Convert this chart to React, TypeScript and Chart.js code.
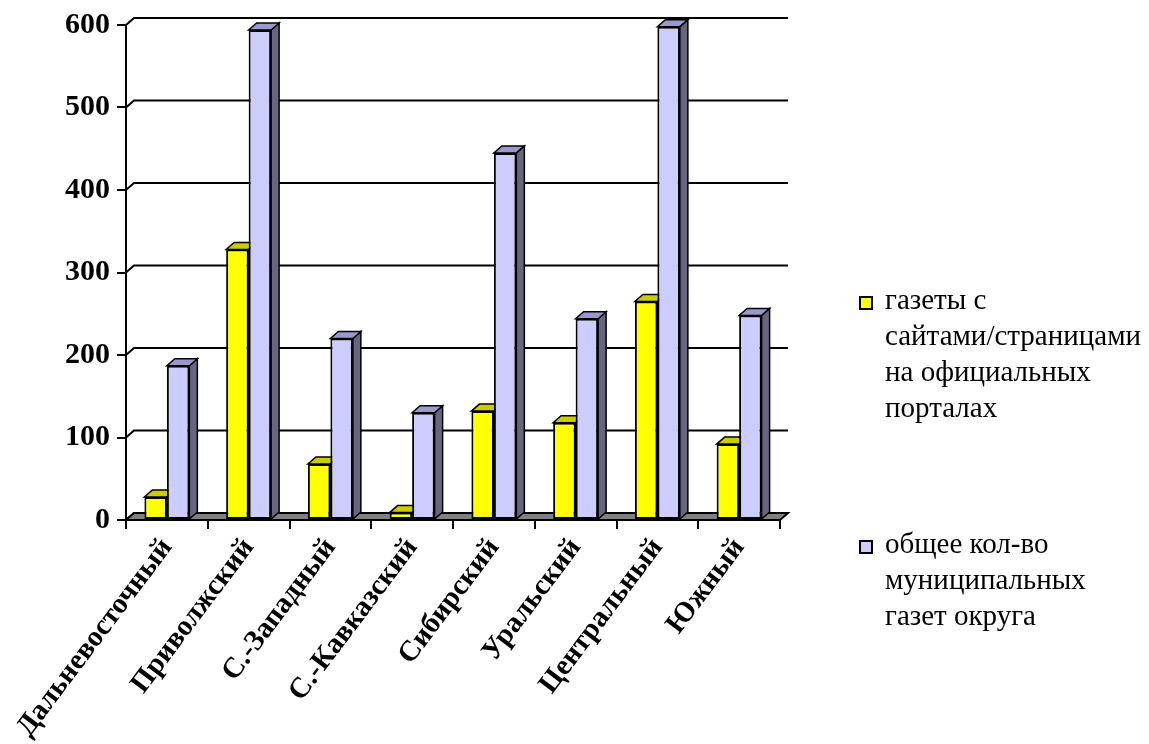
import React, { useEffect, useRef } from "react";
import { Chart, registerables } from "chart.js";

Chart.register(...registerables);

const regions = [
  "Дальневосточный",
  "Приволжский",
  "С.-Западный",
  "С.-Кавказский",
  "Сибирский",
  "Уральский",
  "Центральный",
  "Южный",
];
const sitesSeries = [28, 328, 68, 9, 132, 118, 265, 92];
const totalSeries = [187, 594, 220, 130, 445, 244, 598, 248];
const seriesLines = [
  ["газеты с", "сайтами/страницами", "на официальных", "порталах"],
  ["общее кол-во", "муниципальных", "газет округа"],
];
const yTicks = [0, 100, 200, 300, 400, 500, 600];

const frontColors = ["#FFFF00", "#CCCCFF"];
const topColors = ["#CCCC00", "#9999CC"];
const sideColors = ["#999900", "#666680"];
const DX = 8;
const DY = 7;

const depthPlugin = {
  id: "depth3d",
  beforeDatasetsDraw(chart: any) {
    const { ctx, chartArea: a, scales } = chart;
    const y = scales.y;
    ctx.save();
    ctx.strokeStyle = "#000";
    ctx.lineWidth = 2;
    ctx.lineJoin = "miter";
    y.ticks.forEach((t: any) => {
      const py = y.getPixelForValue(t.value);
      ctx.beginPath();
      ctx.moveTo(a.left, py);
      ctx.lineTo(a.left + DX, py - DY);
      ctx.lineTo(a.right + DX, py - DY);
      ctx.stroke();
    });
    const b = y.getPixelForValue(0);
    ctx.beginPath();
    ctx.moveTo(a.left, b);
    ctx.lineTo(a.right, b);
    ctx.lineTo(a.right + DX, b - DY);
    ctx.lineTo(a.left + DX, b - DY);
    ctx.closePath();
    ctx.fillStyle = "#808080";
    ctx.fill();
    ctx.stroke();
    ctx.lineWidth = 1.5;
    chart.data.datasets.forEach((_ds: any, i: number) => {
      const meta = chart.getDatasetMeta(i);
      meta.data.forEach((bar: any) => {
        const p = bar.getProps(["x", "y", "base", "width"], true);
        const l = p.x - p.width / 2;
        const r = p.x + p.width / 2;
        const top = p.y;
        const base = p.base;
        ctx.beginPath();
        ctx.moveTo(r, top);
        ctx.lineTo(r + DX, top - DY);
        ctx.lineTo(r + DX, base - DY);
        ctx.lineTo(r, base);
        ctx.closePath();
        ctx.fillStyle = sideColors[i];
        ctx.fill();
        ctx.stroke();
        ctx.beginPath();
        ctx.moveTo(l, top);
        ctx.lineTo(r, top);
        ctx.lineTo(r + DX, top - DY);
        ctx.lineTo(l + DX, top - DY);
        ctx.closePath();
        ctx.fillStyle = topColors[i];
        ctx.fill();
        ctx.stroke();
      });
    });
    ctx.restore();
  },
};

export default function App() {
  const ref = useRef<HTMLCanvasElement | null>(null);

  useEffect(() => {
    if (!ref.current) return;
    const chart = new Chart(ref.current, {
      type: "bar",
      data: {
        labels: regions,
        datasets: [
          {
            label: seriesLines[0].join(" "),
            data: sitesSeries,
            backgroundColor: frontColors[0],
            borderColor: "#000",
            borderWidth: 2,
            borderSkipped: false,
          },
          {
            label: seriesLines[1].join(" "),
            data: totalSeries,
            backgroundColor: frontColors[1],
            borderColor: "#000",
            borderWidth: 2,
            borderSkipped: false,
          },
        ],
      },
      options: {
        responsive: false,
        animation: false,
        devicePixelRatio: 1,
        layout: { padding: { left: 0, right: 369, top: 20, bottom: 0 } },
        datasets: {
          bar: { categoryPercentage: 0.55, barPercentage: 1 },
        },
        plugins: {
          legend: { display: false },
          tooltip: { enabled: false },
        },
        scales: {
          x: {
            offset: true,
            grid: {
              offset: true,
              drawOnChartArea: false,
              drawTicks: true,
              tickLength: 9,
              color: "#000",
              lineWidth: 2,
            },
            border: { display: true, color: "#000", width: 2 },
            ticks: {
              autoSkip: false,
              minRotation: 53,
              maxRotation: 53,
              padding: 3,
              color: "#000",
              font: { family: "'Liberation Serif', serif", size: 29, weight: "bold" },
            },
            afterFit: (s: any) => {
              s.height = 224;
            },
          },
          y: {
            min: 0,
            max: 600,
            afterBuildTicks: (s: any) => {
              s.ticks = yTicks.map((v) => ({ value: v }));
            },
            grid: {
              drawOnChartArea: false,
              drawTicks: true,
              tickLength: 9,
              color: "#000",
              lineWidth: 2,
            },
            border: { display: true, color: "#000", width: 2 },
            ticks: {
              padding: 7,
              color: "#000",
              font: { family: "'Liberation Serif', serif", size: 30, weight: "bold" },
            },
            afterFit: (s: any) => {
              s.width = 126;
            },
          },
        },
      },
      plugins: [depthPlugin],
    });
    return () => chart.destroy();
  }, []);

  const legendTops = [293, 537];

  return (
    <div style={{ position: "absolute", left: 0, top: 0, width: 1149, height: 744, background: "#fff" }}>
      <canvas ref={ref} width={1149} height={744} style={{ display: "block" }} />
      {seriesLines.map((lines, i) => (
        <div
          key={i}
          style={{
            position: "absolute",
            left: 859,
            top: legendTops[i],
            fontFamily: "'Liberation Serif', serif",
            fontSize: 29,
            lineHeight: "36px",
            color: "#000",
          }}
        >
          <span
            style={{
              position: "absolute",
              left: 0,
              top: 3,
              width: 10,
              height: 10,
              border: "2px solid #000",
              background: frontColors[i],
            }}
          />
          <div style={{ position: "absolute", left: 26, top: -12, whiteSpace: "nowrap" }}>
            {lines.map((ln, j) => (
              <div key={j}>{ln}</div>
            ))}
          </div>
        </div>
      ))}
    </div>
  );
}
